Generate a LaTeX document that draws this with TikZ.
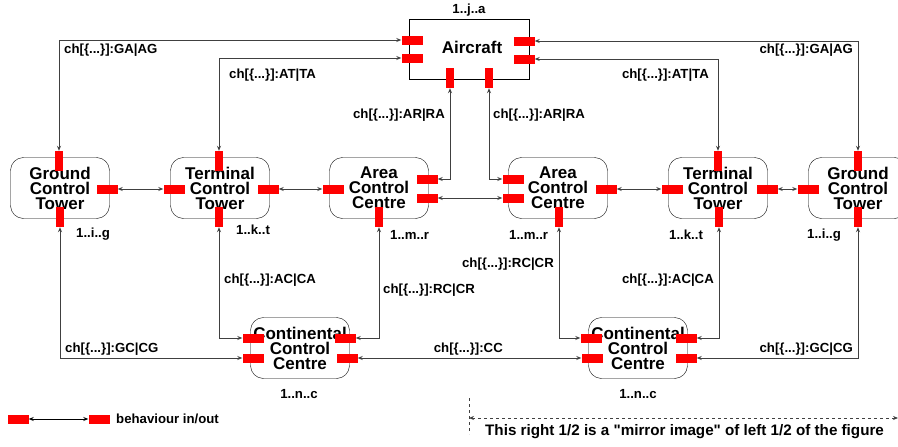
\documentclass[tikz,border=0pt]{standalone}
\usepackage{fontspec}
\setmainfont{Liberation Sans}[Ligatures=TeXOff]
\usepackage{tikz}
\usetikzlibrary{arrows.meta,positioning}

\begin{document}
\begin{tikzpicture}[
  x=1pt, y=-1pt,
  font=\fontsize{13.2}{15}\selectfont\bfseries,
  unit/.style={draw, rounded corners=13pt, align=center, minimum width=99pt, minimum height=61pt, inner sep=0pt, font=\fontsize{17}{15}\selectfont\bfseries},
  plane/.style={draw, align=center, minimum width=120pt, minimum height=60pt, inner sep=0pt},
  porth/.style={fill=red, minimum width=21pt, minimum height=9pt, inner sep=0pt},
  portv/.style={fill=red, minimum width=8pt, minimum height=20pt, inner sep=0pt},
  link/.style={{Stealth[length=5pt,width=4pt]}-{Stealth[length=5pt,width=4pt]}, draw=black!75, line width=0.8pt},
  chan/.style={inner sep=0pt}
]
\useasboundingbox (0,0) rectangle (898,447);

% boxes
\node[plane] (ac) at (469,49) {};
\node[font=\fontsize{17}{15}\selectfont\bfseries] (actxt) at (472,47) {Aircraft};
\node[chan] (mult-a) at (469,10) {1..j..a};

\node[unit] (gtl) at (60,188) {Ground\\Control\\Tower};
\node[unit] (ttl) at (220,188) {Terminal\\Control\\Tower};
\node[unit] (acl) at (379,188) {Area\\Control\\Centre};
\node[unit] (acr) at (558,188) {Area\\Control\\Centre};
\node[unit] (ttr) at (718,188) {Terminal\\Control\\Tower};
\node[unit] (gtr) at (858,188) {Ground\\Control\\Tower};
\node[unit] (ccl) at (300,348) {Continental\\Control\\Centre};
\node[unit] (ccr) at (638,348) {Continental\\Control\\Centre};

% ports
\node[porth] (ac-gl) at (412,40) {};
\node[porth] (ac-tl) at (412,58) {};
\node[portv] (ac-rl) at (450,78) {};
\node[portv] (ac-rr) at (489,78) {};
\node[porth] (ac-gr) at (524,41) {};
\node[porth] (ac-tr) at (524,59) {};

\node[portv] (gtl-n) at (59,161) {};
\node[porth] (gtl-e) at (107,189) {};
\node[portv] (gtl-s) at (60,217) {};

\node[portv] (ttl-n) at (219,161) {};
\node[porth] (ttl-w) at (174,189) {};
\node[porth] (ttl-e) at (268,189) {};
\node[portv] (ttl-s) at (219,217) {};

\node[porth] (acl-w) at (333,189) {};
\node[porth] (acl-ne) at (427,179) {};
\node[porth] (acl-se) at (427,198) {};
\node[portv] (acl-s) at (379,217) {};

\node[porth] (acr-nw) at (513,179) {};
\node[porth] (acr-sw) at (513,198) {};
\node[porth] (acr-e) at (606,189) {};
\node[portv] (acr-s) at (559,217) {};

\node[portv] (ttr-n) at (718,161) {};
\node[porth] (ttr-w) at (672,189) {};
\node[porth] (ttr-e) at (767,189) {};
\node[portv] (ttr-s) at (719,217) {};

\node[portv] (gtr-n) at (858,161) {};
\node[porth] (gtr-w) at (808,189) {};
\node[portv] (gtr-s) at (858,217) {};

\node[porth] (ccl-nw) at (253,338) {};
\node[porth] (ccl-sw) at (253,358) {};
\node[porth] (ccl-ne) at (345,338) {};
\node[porth] (ccl-se) at (347,358) {};

\node[porth] (ccr-nw) at (591,338) {};
\node[porth] (ccr-sw) at (592,358) {};
\node[porth] (ccr-ne) at (686,338) {};
\node[porth] (ccr-se) at (686,358) {};

% channels to the aircraft
\draw[link] (gtl-n.north) |- (ac-gl.west);
\draw[link] (ttl-n.north) |- (ac-tl.west);
\draw[link] (ac-rl.south) |- (acl-ne.east);
\draw[link] (ac-rr.south) |- (acr-nw.west);
\draw[link] (ac-gr.east) -| (gtr-n.north);
\draw[link] (ac-tr.east) -| (ttr-n.north);

% ground level
\draw[link] (gtl-e.east) -- (ttl-w.west);
\draw[link] (ttl-e.east) -- (acl-w.west);
\draw[link] (acl-se.east) -- (acr-sw.west);
\draw[link] (acr-e.east) -- (ttr-w.west);
\draw[link] (ttr-e.east) -- (gtr-w.west);

% continental
\draw[link] (gtl-s.south) |- (ccl-sw.west);
\draw[link] (ttl-s.south) |- (ccl-nw.west);
\draw[link] (acl-s.south) |- (ccl-ne.east);
\draw[link] (ccl-se.east) -- (ccr-sw.west);
\draw[link] (acr-s.south) |- (ccr-nw.west);
\draw[link] (ttr-s.south) |- (ccr-ne.east);
\draw[link] (gtr-s.south) |- (ccr-se.east);

% channel names
\node[chan, anchor=west] (ch-gal) at (64,50) {ch[\{...\}]:GA|AG};
\node[chan, anchor=west] (ch-atl) at (229,75) {ch[\{...\}]:AT|TA};
\node[chan, anchor=east] (ch-arl) at (445,115) {ch[\{...\}]:AR|RA};
\node[chan, anchor=west] (ch-arr) at (493,115) {ch[\{...\}]:AR|RA};
\node[chan, anchor=east] (ch-atr) at (709,75) {ch[\{...\}]:AT|TA};
\node[chan, anchor=east] (ch-gar) at (853,50) {ch[\{...\}]:GA|AG};
\node[chan, anchor=west] (ch-acl) at (224,280) {ch[\{...\}]:AC|CA};
\node[chan, anchor=west] (ch-rcl) at (383,290) {ch[\{...\}]:RC|CR};
\node[chan, anchor=west] (ch-gcl) at (65,349) {ch[\{...\}]:GC|CG};
\node[chan, anchor=east] (ch-cc) at (503,349) {ch[\{...\}]:CC};
\node[chan, anchor=east] (ch-rcr) at (554,264) {ch[\{...\}]:RC|CR};
\node[chan, anchor=east] (ch-acr) at (714,280) {ch[\{...\}]:AC|CA};
\node[chan, anchor=east] (ch-gcr) at (853,349) {ch[\{...\}]:GC|CG};

% multiplicities
\node[chan, anchor=west] (m-gtl) at (76,234) {1..i..g};
\node[chan, anchor=west] (m-ttl) at (236,230) {1..k..t};
\node[chan, anchor=west] (m-acl) at (390,235) {1..m..r};
\node[chan, anchor=west] (m-acr) at (509,235) {1..m..r};
\node[chan, anchor=west] (m-ttr) at (669,235) {1..k..t};
\node[chan, anchor=west] (m-gtr) at (807,235) {1..i..g};
\node[chan] (m-ccl) at (299,394) {1..n..c};
\node[chan] (m-ccr) at (638,394) {1..n..c};

% legend
\node[porth] (lg-a) at (18,419) {};
\node[porth] (lg-b) at (99,419) {};
\draw[link, draw=black] (lg-a.east) -- (lg-b.west);
\node[chan, anchor=west] (lg-txt) at (116,419) {behaviour in/out};

% mirror note
\coordinate (half-top) at (469,398);
\coordinate (half-bot) at (469,434);
\coordinate (half-end) at (898,418);
\draw[dashed, draw=black!75] (half-top) -- (half-bot);
\draw[link, dashed] (half-top |- half-end) -- (half-end);
\node[chan, anchor=west, font=\fontsize{15.2}{17}\selectfont\bfseries] (note) at (485,432)
  {This right 1/2 is a "mirror image" of left 1/2 of the figure};
\end{tikzpicture}
\end{document}
